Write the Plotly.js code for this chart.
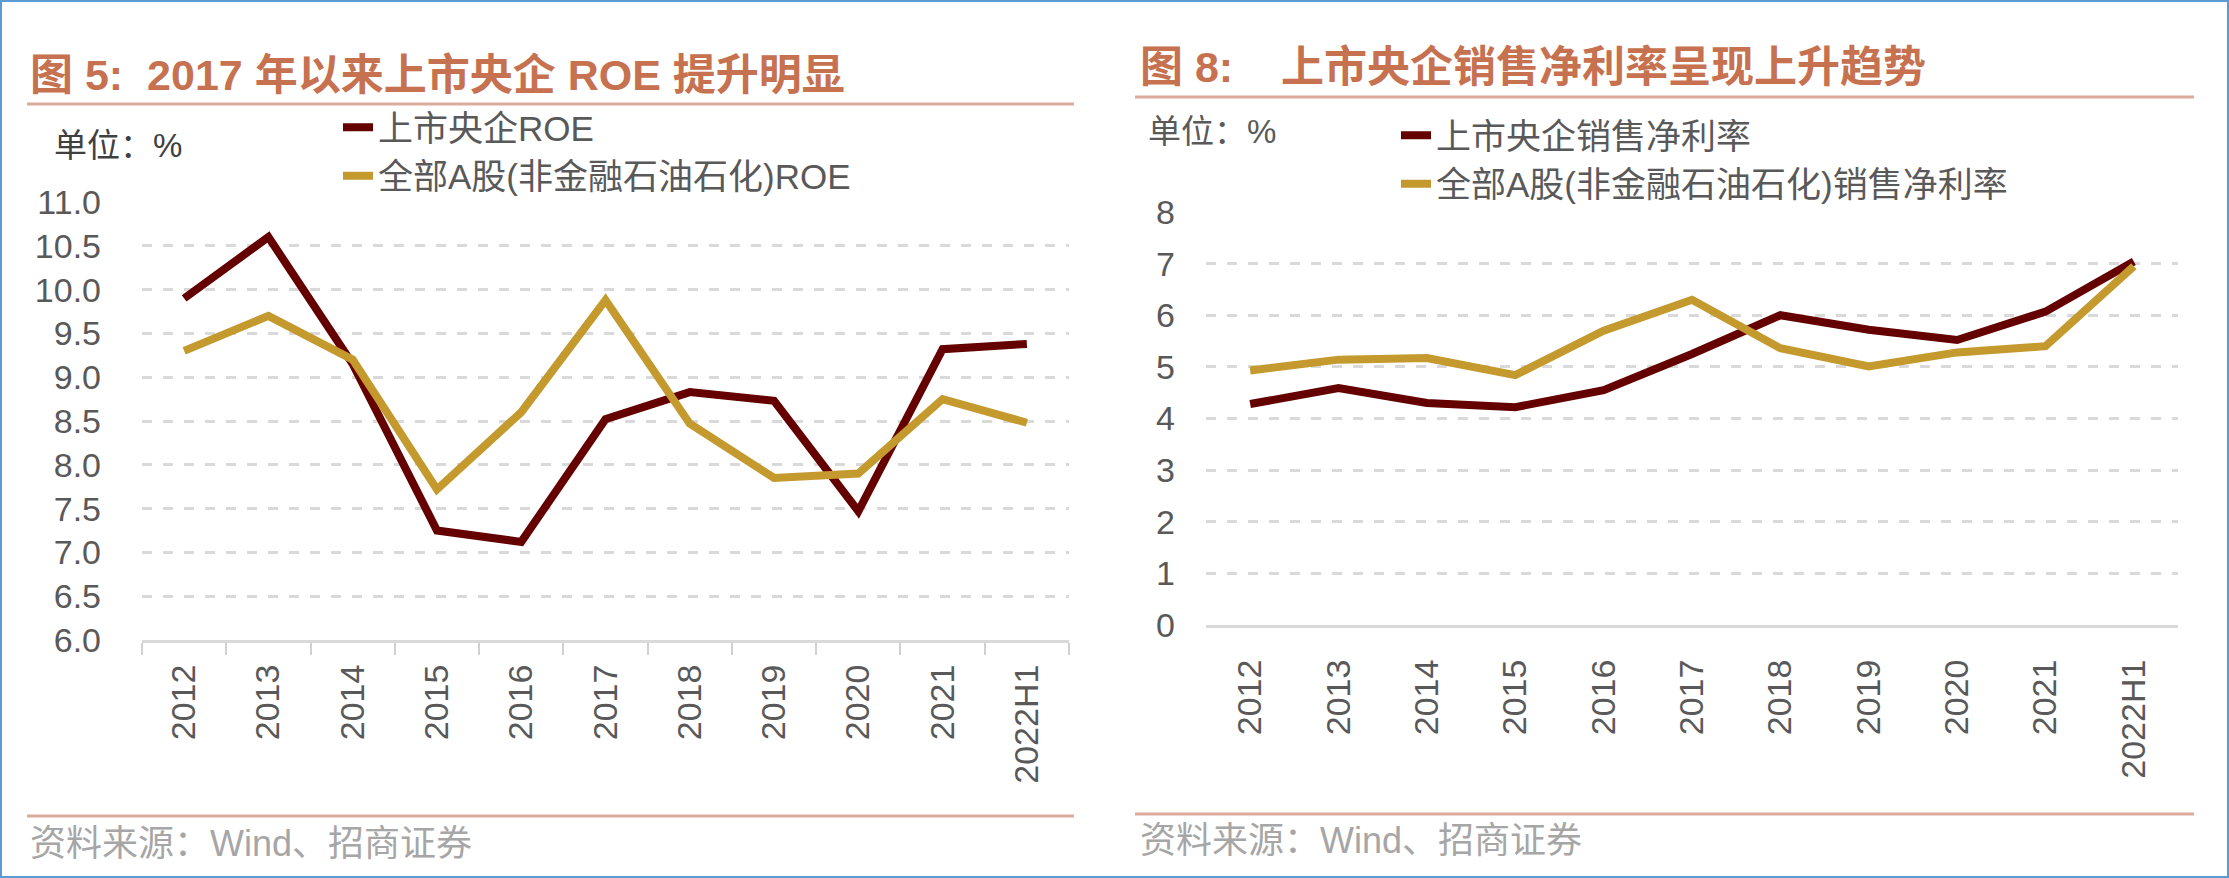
<!DOCTYPE html>
<html>
<head>
<meta charset="utf-8">
<script src="https://cdn.plot.ly/plotly-3.0.1.min.js"></script>
<style>
  html, body { margin: 0; padding: 0; background: #ffffff; }
  #chart { width: 2229px; height: 878px; }
</style>
</head>
<body>
<div id="chart"></div>
<script>
(function () {
  "use strict";

  // categories shared by both panels
  var years = ["2012", "2013", "2014", "2015", "2016", "2017", "2018", "2019", "2020", "2021", "2022H1"];

  // 图5: ROE (%)
  var roeSoe = [9.90, 10.60, 9.15, 7.25, 7.12, 8.52, 8.83, 8.73, 7.47, 9.32, 9.38];
  var roeAll = [9.30, 9.70, 9.20, 7.72, 8.60, 9.88, 8.47, 7.85, 7.90, 8.75, 8.48];

  // 图8: 销售净利率 (%)
  var marginSoe = [4.28, 4.59, 4.30, 4.22, 4.55, 5.25, 6.00, 5.72, 5.52, 6.07, 7.04];
  var marginAll = [4.93, 5.14, 5.17, 4.84, 5.70, 6.30, 5.36, 5.01, 5.28, 5.40, 6.95];

  var roeTicks = [6.0, 6.5, 7.0, 7.5, 8.0, 8.5, 9.0, 9.5, 10.0, 10.5, 11.0];
  var marginTicks = [0, 1, 2, 3, 4, 5, 6, 7, 8];

  var W = 2229, H = 878;
  function px(x) { return x / W; }
  function py(y) { return 1 - y / H; }

  var dark = "#650000";
  var gold = "#c49a2e";
  var fontFamily = "'Liberation Sans', Arial, 'Noto Sans CJK SC', sans-serif";
  var titleColor = "#c6714f";
  var ruleColor = "#dcab9b";
  var gridColor = "#d9d9d9";
  var tickFont = { family: fontFamily, size: 34, color: "#595959" };

  var traces = [
    { type: "scatter", mode: "lines", name: "上市央企ROE", x: years, y: roeSoe,
      xaxis: "x", yaxis: "y", legend: "legend", line: { color: dark, width: 8 } },
    { type: "scatter", mode: "lines", name: "全部A股(非金融石油石化)ROE", x: years, y: roeAll,
      xaxis: "x", yaxis: "y", legend: "legend", line: { color: gold, width: 8 } },
    { type: "scatter", mode: "lines", name: "上市央企销售净利率", x: years, y: marginSoe,
      xaxis: "x2", yaxis: "y2", legend: "legend2", line: { color: dark, width: 8 } },
    { type: "scatter", mode: "lines", name: "全部A股(非金融石油石化)销售净利率", x: years, y: marginAll,
      xaxis: "x2", yaxis: "y2", legend: "legend2", line: { color: gold, width: 8 } }
  ];

  function legendBox(x, y) {
    return {
      x: px(x), y: py(y), xanchor: "left", yanchor: "top",
      bgcolor: "rgba(0,0,0,0)", borderwidth: 0,
      font: { family: fontFamily, size: 35, color: "#595959" },
      tracegroupgap: 0, itemwidth: 30
    };
  }

  function note(text, x, y, size, color, weight) {
    return {
      xref: "paper", yref: "paper", x: px(x), y: py(y),
      xanchor: "left", yanchor: "middle", showarrow: false,
      text: text,
      font: { family: fontFamily, size: size, color: color, weight: weight || 400 }
    };
  }

  function rule(x0, x1, y) {
    return { type: "line", xref: "paper", yref: "paper",
      x0: px(x0), x1: px(x1), y0: py(y), y1: py(y),
      line: { color: ruleColor, width: 3 } };
  }

  var layout = {
    width: W, height: H,
    margin: { t: 0, r: 0, b: 0, l: 0 },
    paper_bgcolor: "#ffffff",
    plot_bgcolor: "rgba(0,0,0,0)",
    font: { family: fontFamily, color: "#595959" },
    showlegend: true,
    legend: legendBox(338, 98),
    legend2: legendBox(1396, 106),
    xaxis: {
      domain: [px(142), px(1069)], anchor: "y",
      type: "category", range: [-0.5, 10.5],
      tickangle: -90, tickfont: tickFont,
      ticks: "outside", tickson: "boundaries", ticklen: 12, tickwidth: 2, tickcolor: "#d0d0d0",
      showline: true, linecolor: gridColor, linewidth: 3,
      showgrid: false, zeroline: false, ticklabelstandoff: 8, fixedrange: true
    },
    yaxis: {
      domain: [py(640), py(202)], anchor: "x",
      range: [6, 11], tickvals: roeTicks, tickformat: ".1f", tickfont: tickFont,
      showgrid: true, gridcolor: gridColor, gridwidth: 3, griddash: "10px,11px",
      zeroline: false, showline: false, ticks: "", ticklabelstandoff: 40, fixedrange: true
    },
    xaxis2: {
      domain: [px(1206), px(2178)], anchor: "y2",
      type: "category", range: [-0.5, 10.5],
      tickangle: -90, tickfont: tickFont, ticks: "",
      showline: true, linecolor: gridColor, linewidth: 3,
      showgrid: false, zeroline: false, ticklabelstandoff: 18, fixedrange: true
    },
    yaxis2: {
      domain: [py(625), py(212)], anchor: "x2",
      range: [0, 8], tickvals: marginTicks, tickfont: tickFont,
      showgrid: true, gridcolor: gridColor, gridwidth: 3, griddash: "10px,11px",
      zeroline: false, showline: false, ticks: "", ticklabelstandoff: 30, fixedrange: true
    },
    annotations: [
      note("图 5:\u00a0 2017 年以来上市央企 ROE 提升明显", 28, 75, 43, titleColor, 700),
      note("图 8:\u00a0\u00a0\u00a0 上市央企销售净利率呈现上升趋势", 1138, 67, 43, titleColor, 700),
      note("单位：%", 52, 146, 33, "#404040"),
      note("单位：%", 1146, 132, 33, "#595959"),
      note("资料来源：Wind、招商证券", 28, 843, 36, "#a6a6a6"),
      note("资料来源：Wind、招商证券", 1138, 840, 36, "#a6a6a6")
    ],
    shapes: [
      rule(27, 1074, 104),
      rule(1135, 2194, 97),
      rule(27, 1074, 816),
      rule(1135, 2194, 814),
      { type: "rect", xref: "paper", yref: "paper", x0: 0, x1: 1, y0: 0, y1: 1,
        line: { color: "#5b9bd5", width: 4 } }
    ]
  };

  Plotly.newPlot("chart", traces, layout, {
    displaylogo: false, displayModeBar: false, responsive: false, staticPlot: true
  });
}());
</script>
</body>
</html>
